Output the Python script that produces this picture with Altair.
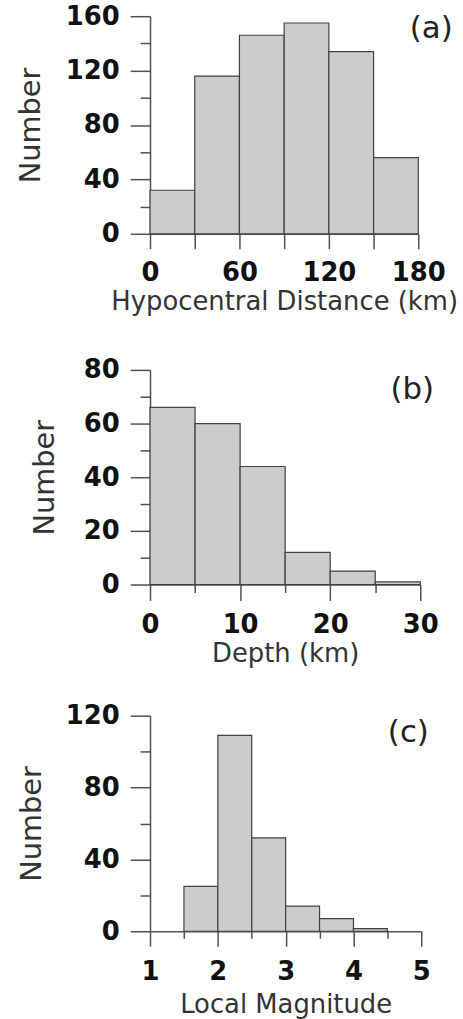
import altair as alt
import pandas as pd

# ---- data ----
dist_edges = [0, 30, 60, 90, 120, 150, 180]
dist_counts = [32, 116, 146, 155, 134, 56]

depth_edges = [0, 5, 10, 15, 20, 25, 30]
depth_counts = [66, 60, 44, 12, 5, 1]

mag_edges = [1.5, 2.0, 2.5, 3.0, 3.5, 4.0, 4.5]
mag_counts = [25, 109, 52, 14, 7, 1.5]

dist_xticks = [0, 30, 60, 90, 120, 150, 180]
dist_yticks = [0, 20, 40, 60, 80, 100, 120, 140, 160]
depth_xticks = [0, 5, 10, 15, 20, 25, 30]
depth_yticks = [0, 10, 20, 30, 40, 50, 60, 70, 80]
mag_xticks = [1, 1.5, 2, 2.5, 3, 3.5, 4, 4.5, 5]
mag_yticks = [0, 20, 40, 60, 80, 100, 120]

FONT = "DejaVu Sans"
AX = "#505050"


def panel(edges, counts, xdom, xticks, xmaj, ydom, yticks, ymaj, xtitle, tag,
          w, h, tpad, lx, ly, xlong=15, xshort=15, xlpad=11, xtpad=3):
    df = pd.DataFrame({"x0": edges[:-1], "x1": edges[1:], "n": counts,
                       "base": [0] * len(counts)})
    xaxis = alt.Axis(
        values=xticks, title=xtitle,
        labelExpr=f"{xmaj} ? (datum.value + '') : ''",
        tickSize={"condition": {"test": xmaj, "value": xlong}, "value": xshort},
        labelFont=FONT, labelFontSize=26, labelFontWeight="bold", labelColor="#111",
        labelPadding=xlpad, labelFlush=False, labelOverlap=False,
        titleFont=FONT, titleFontSize=26, titleFontWeight="normal", titleColor="#333",
        titlePadding=xtpad, domainColor=AX, tickColor=AX, domainWidth=1.5, tickWidth=1.5,
        grid=False)
    yaxis = alt.Axis(
        values=yticks, title="Number",
        labelExpr=f"{ymaj} ? (datum.value + '') : ''",
        tickSize={"condition": {"test": ymaj, "value": 20}, "value": 10},
        labelFont=FONT, labelFontSize=26, labelFontWeight="bold", labelColor="#111",
        labelPadding=11, labelOverlap=False,
        titleFont=FONT, titleFontSize=29, titleFontWeight="normal", titleColor="#333",
        titlePadding=tpad, domainColor=AX, tickColor=AX, domainWidth=1.5, tickWidth=1.5,
        grid=False)
    bars = alt.Chart(df).mark_rect(fill="#cccccc", stroke="#404040", strokeWidth=1.2).encode(
        x=alt.X("x0:Q", scale=alt.Scale(domain=xdom, nice=False, zero=False), axis=xaxis),
        x2="x1:Q",
        y=alt.Y("n:Q", scale=alt.Scale(domain=ydom, nice=False), axis=yaxis),
        y2="base:Q",
    )
    txt = alt.Chart(pd.DataFrame({"t": [tag]})).mark_text(
        font=FONT, fontSize=31, color="#222").encode(
        x=alt.value(lx), y=alt.value(ly), text="t:N")
    return alt.layer(bars, txt).properties(width=w, height=h)


a = panel(dist_edges, dist_counts, [0, 180], dist_xticks, "datum.value % 60 === 0",
          [0, 160], dist_yticks, "datum.value % 40 === 0",
          "Hypocentral Distance (km)", "(a)", 270, 219, 20, 283, 13)
b = panel(depth_edges, depth_counts, [0, 30], depth_xticks, "datum.value % 10 === 0",
          [0, 80], depth_yticks, "datum.value % 20 === 0",
          "Depth (km)", "(b)", 272, 216, 24, 264, 20, xlong=16, xshort=8)
c = panel(mag_edges, mag_counts, [1, 5], mag_xticks, "datum.value % 1 === 0",
          [0, 120], mag_yticks, "datum.value % 40 === 0",
          "Local Magnitude", "(c)", 273, 217, 19, 260, 17, xlong=15, xshort=7,
          xlpad=13, xtpad=7)

chart = alt.vconcat(alt.vconcat(a, b, spacing=43), c, spacing=37).properties(
    padding={"left": 16, "top": 0, "right": 5, "bottom": 0},
    background="white",
).configure_view(stroke=None)

chart.save("out.html", embed_options={"renderer": "svg", "actions": False})
